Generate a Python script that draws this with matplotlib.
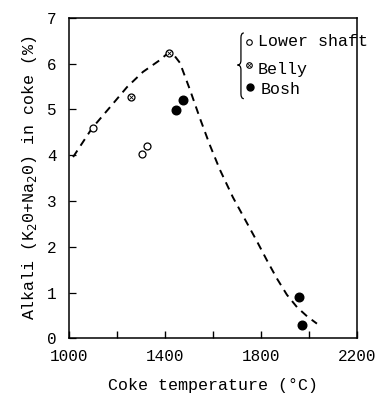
import matplotlib
matplotlib.use("Agg")
import matplotlib.pyplot as plt
from matplotlib.path import Path
from matplotlib.patches import PathPatch

FONT = ["Liberation Mono", "DejaVu Sans Mono"]

# measured points
lower_x = [1100, 1304, 1325]
lower_y = [4.6, 4.03, 4.2]
belly_x = [1258, 1417]
belly_y = [5.28, 6.24]
bosh_x = [1446, 1475, 1958, 1971]
bosh_y = [4.98, 5.2, 0.9, 0.28]

# dashed trend curve (hand-drawn in the original)
curve_x = [1017, 1096, 1171, 1242, 1308, 1379, 1412, 1440, 1462,
           1504, 1546, 1587, 1629, 1683, 1733, 1783, 1825, 1867, 1908,
           1950, 1992, 2033]
curve_y = [3.96, 4.59, 5.05, 5.49, 5.82, 6.08, 6.23, 6.17, 6.02,
           5.43, 4.8, 4.22, 3.68, 3.08, 2.6, 2.12, 1.7, 1.3, 0.95,
           0.68, 0.48, 0.32]

XTICKS = [1000, 1400, 1800, 2200]
YTICKS = list(range(0, 8))

fig = plt.figure(figsize=(3.82, 3.98), dpi=100)
ax = fig.add_axes([0.1806, 0.15, 0.754, 0.805])

ax.plot(curve_x, curve_y, color="black", lw=1.4, ls=(0, (4, 3)))
ax.plot(lower_x, lower_y, "o", ms=5, mfc="white", mec="black", mew=0.9)
ax.plot(belly_x, belly_y, "o", ms=5, mfc="white", mec="black", mew=0.9)
ax.plot(belly_x, belly_y, "x", ms=3.2, color="black", mew=0.6)
ax.plot(bosh_x, bosh_y, "o", ms=6.2, color="black")

ax.set_xlim(1000, 2200)
ax.set_ylim(0, 7)
ax.set_xticks(XTICKS)
ax.set_xticks([1200, 1600, 2000], minor=True)
ax.set_yticks(YTICKS)
ax.tick_params(axis="x", direction="in", length=5, width=1, pad=8)
ax.tick_params(axis="x", which="minor", direction="in", length=5, width=1)
ax.tick_params(axis="y", direction="in", length=5, width=0.9, pad=9)
for lab in ax.get_xticklabels() + ax.get_yticklabels():
    lab.set_family(FONT)
    lab.set_fontsize(11.5)
for s in ax.spines.values():
    s.set_linewidth(1.1)

ax.set_xlabel("Coke temperature (\u00b0C)", family=FONT, fontsize=12, labelpad=10)
ax.set_ylabel("Alkali (K$_2$0+Na$_2$0) in coke (%)", family=FONT,
              fontsize=12, labelpad=6)

# bracket legend: brace drawn as a path in axes coords
xe, xm, xt = 0.607, 0.597, 0.585
yt, yc, yb = 0.953, 0.853, 0.748
verts = [(xe, yt), (xm, yt), (xm, yt - 0.015),
         (xm, yc + 0.015),
         (xm, yc), (xt, yc), (xt, yc),
         (xm, yc), (xm, yc - 0.015),
         (xm, yb + 0.015),
         (xm, yb), (xe, yb), (xe, yb)]
codes = [Path.MOVETO, Path.CURVE3, Path.CURVE3,
         Path.LINETO,
         Path.CURVE3, Path.CURVE3, Path.LINETO,
         Path.CURVE3, Path.CURVE3,
         Path.LINETO,
         Path.CURVE3, Path.CURVE3, Path.LINETO]
ax.add_patch(PathPatch(Path(verts, codes), fill=False, lw=0.9, color="black",
                       transform=ax.transAxes, clip_on=False))

tx = 0.655
ax.plot([0.624], [0.925], "o", ms=4, mfc="white", mec="black", mew=0.8,
        transform=ax.transAxes, clip_on=False)
ax.plot([0.624], [0.853], "o", ms=4, mfc="white", mec="black", mew=0.8,
        transform=ax.transAxes, clip_on=False)
ax.plot([0.624], [0.853], "x", ms=2.6, color="black", mew=0.5,
        transform=ax.transAxes, clip_on=False)
ax.plot([0.628], [0.783], "o", ms=5, color="black",
        transform=ax.transAxes, clip_on=False)
ax.text(tx, 0.925, "Lower shaft", transform=ax.transAxes, family=FONT,
        fontsize=12, va="center", ha="left", clip_on=False)
ax.text(tx, 0.838, "Belly", transform=ax.transAxes, family=FONT,
        fontsize=12, va="center", ha="left")
ax.text(tx + 0.01, 0.776, "Bosh", transform=ax.transAxes, family=FONT,
        fontsize=12, va="center", ha="left")

fig.savefig("out.png", dpi=100)
